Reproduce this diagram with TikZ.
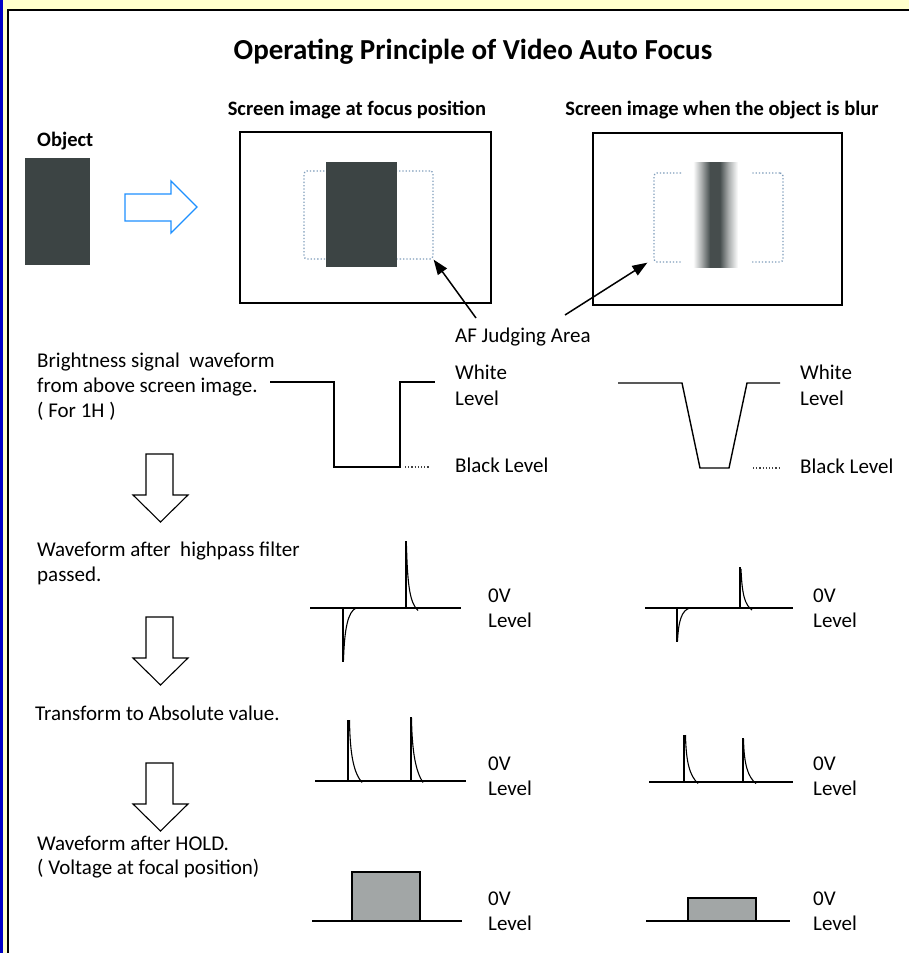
\documentclass[tikz,border=0pt]{standalone}
\usepackage{fontspec}
\setmainfont{Carlito}
\usetikzlibrary{arrows.meta}
\definecolor{framebg}{HTML}{FFFFCC}
\definecolor{frameblue}{HTML}{0000C8}
\definecolor{objgray}{HTML}{3C4444}
\definecolor{holdgray}{HTML}{A2A6A6}
\definecolor{afdots}{HTML}{7F9DBB}
\definecolor{flowblue}{HTML}{1E90FF}
\pgfdeclarehorizontalshading{blurbar}{100bp}{%
  color(0bp)=(white); color(33bp)=(white); color(39bp)=(objgray!45);
  color(45bp)=(objgray!95); color(52bp)=(objgray!95); color(58bp)=(objgray!45);
  color(65bp)=(white); color(100bp)=(white)}
\begin{document}
\begin{tikzpicture}[x=1pt,y=-1pt,
  txt/.style={font=\fontsize{21}{25}\selectfont, inner sep=0pt, anchor=mid west, yshift=-3pt},
  head/.style={font=\bfseries\fontsize{20.5}{24}\selectfont, inner sep=0pt, yshift=-2pt},
  screen/.style={draw=black, line width=1.3pt, fill=white, inner sep=0pt},
  afbox/.style={draw=afdots, line width=1.3pt, dotted, rounded corners=3pt, inner sep=0pt},
  darkbar/.style={fill=objgray, inner sep=0pt},
  wave/.style={line width=1.4pt, line join=miter},
  spike/.style={line width=2pt},
  decay/.style={line width=1.1pt},
  lvldots/.style={line width=1.2pt, dotted, black!75},
  flowdown/.style={draw=black, line width=1.1pt, fill=white, line join=miter},
  pointer/.style={line width=1.5pt, -{Triangle[length=15pt,width=11pt]}}]
\useasboundingbox (0,0) rectangle (909,953);
% page frame
\fill[white] (0,0) rectangle (909,953);
\fill[framebg] (0,0) rectangle (909,9.5);
\fill[framebg] (0,0) rectangle (7.5,953);
\fill[frameblue] (0,0) rectangle (3.2,953);
\draw[line width=1.8pt] (7.6,953) -- (7.6,9.9) -- (909,9.9);

% headings
\node[font=\bfseries\fontsize{29}{34}\selectfont, inner sep=0pt] (title) at (473,52) {Operating Principle of Video Auto Focus};
\node[head] (hfocus) at (357,108) {Screen image at focus position};
\node[head] (hblur) at (722,108) {Screen image when the object is blur};
\node[head, anchor=mid west] (hobj) at (37,142) {Object};

% object and transfer arrow
\node[darkbar, minimum width=65, minimum height=107] (obj) at (57.5,211.5) {};
\draw[flowblue, line width=1.4pt, fill=white, line join=miter]
  (125,194) -- (171,194) -- (171,181) -- (197,207) -- (171,233) -- (171,221) -- (125,221) -- cycle;

% screen in focus
\node[screen, minimum width=251, minimum height=171] (scr1) at (365.5,217.5) {};
\node[afbox, minimum width=129, minimum height=88] (af1) at (368.5,215) {};
\node[darkbar, minimum width=71, minimum height=105] (bar1) at (361.5,214.5) {};

% screen with blurred object
\node[screen, minimum width=249, minimum height=172] (scr2) at (717.5,219) {};
\node[afbox, minimum width=129, minimum height=89] (af2) at (718.5,217.5) {};
\shade[shading=blurbar] (682,162) rectangle (752,267);

% AF area pointers
\node[txt] (aflabel) at (455,337) {AF Judging Area};
\coordinate (p1) at (476,318);
\coordinate (p2) at (565,315);
\draw[pointer] (p1) -- (af1.south east);
\draw[pointer] (p2) -- ([xshift=-6pt]af2.south west);

% step texts
\node[txt] (t1a) at (37,362) {Brightness signal\ \ waveform};
\node[txt] (t1b) at (37,387) {from above screen image.};
\node[txt] (t1c) at (37,412) {( For 1H )};
\node[txt] (t2a) at (37,551) {Waveform after\ \ highpass filter};
\node[txt] (t2b) at (37,576) {passed.};
\node[txt] (t3) at (35,715) {Transform to Absolute value.};
\node[txt] (t4a) at (37,845) {Waveform after HOLD.};
\node[txt] (t4b) at (37,869) {( Voltage at focal position)};

% flow arrows between steps
\foreach \top/\name in {454/d1, 617/d2, 763/d3}{
  \draw[flowdown] (146,\top) -- (173,\top) -- (173,\top+41) -- (188,\top+41)
    -- (160.5,\top+68) -- (133,\top+41) -- (146,\top+41) -- cycle;
}

% brightness waveforms
\draw[wave] (270,382) -- (334,382) -- (334,467) -- (400,467) -- (400,382) -- (435,382);
\draw[lvldots] (405,467) -- (430,467);
\node[txt] (w1) at (455,374) {White};
\node[txt] (w1b) at (455,400) {Level};
\node[txt] (b1) at (455,467) {Black Level};
\draw[wave] (618,383) -- (682,383) -- (700,468) -- (729,468) -- (747,383) -- (780,383);
\draw[lvldots] (753,468) -- (780,468);
\node[txt] (w2) at (800,374) {White};
\node[txt] (w2b) at (800,400) {Level};
\node[txt] (b2) at (800,468) {Black Level};

% highpass output
\draw[wave] (310,608) -- (461,608);
\draw[spike] (343,608) -- (343,662);
\draw[decay] (343.5,660) .. controls (344.5,628) and (348,612) .. (356,608);
\draw[spike] (406,608) -- (406,541);
\draw[decay] (406.5,546) .. controls (407.5,586) and (410,603) .. (418,610.5);
\node[txt] (z1) at (488,597) {0V};
\node[txt] (z1b) at (488,622) {Level};
\draw[wave] (645,608) -- (793,608);
\draw[spike] (677,608) -- (677,642);
\draw[decay] (677.5,641) .. controls (678.5,620) and (682,610) .. (690,608);
\draw[spike] (740,608) -- (740,567);
\draw[decay] (741,569) .. controls (742,595) and (745,605) .. (752,610);
\node[txt] (z2) at (813,597) {0V};
\node[txt] (z2b) at (813,622) {Level};

% absolute value
\draw[wave] (315,781) -- (466,781);
\draw[decay, line width=1.5pt] (348,781) -- (348,720);
\draw[decay] (349.5,720) .. controls (350,756) and (354,773) .. (362,782.5);
\draw[spike] (411,781) -- (411,717);
\draw[decay] (411.5,718) .. controls (412,753) and (416,772) .. (423,782.5);
\node[txt] (z3) at (488,765) {0V};
\node[txt] (z3b) at (488,790) {Level};
\draw[wave] (649,782) -- (793,782);
\draw[decay, line width=1.5pt] (684,782) -- (684,735);
\draw[decay] (685.5,735) .. controls (686,763) and (690,776) .. (698,783.5);
\draw[spike] (743,782) -- (743,738);
\draw[decay] (743.5,739) .. controls (744,765) and (748,777) .. (756,783.5);
\node[txt] (z4) at (813,765) {0V};
\node[txt] (z4b) at (813,790) {Level};

% held value
\draw[wave] (312,921) -- (462,921);
\draw[line width=1.2pt, fill=holdgray] (352,921) rectangle (420,872);
\node[txt] (z5) at (488,900) {0V};
\node[txt] (z5b) at (488,925) {Level};
\draw[wave] (646,921) -- (790,921);
\draw[line width=1.2pt, fill=holdgray] (688,921) rectangle (756,898);
\node[txt] (z6) at (813,900) {0V};
\node[txt] (z6b) at (813,925) {Level};
\end{tikzpicture}
\end{document}
